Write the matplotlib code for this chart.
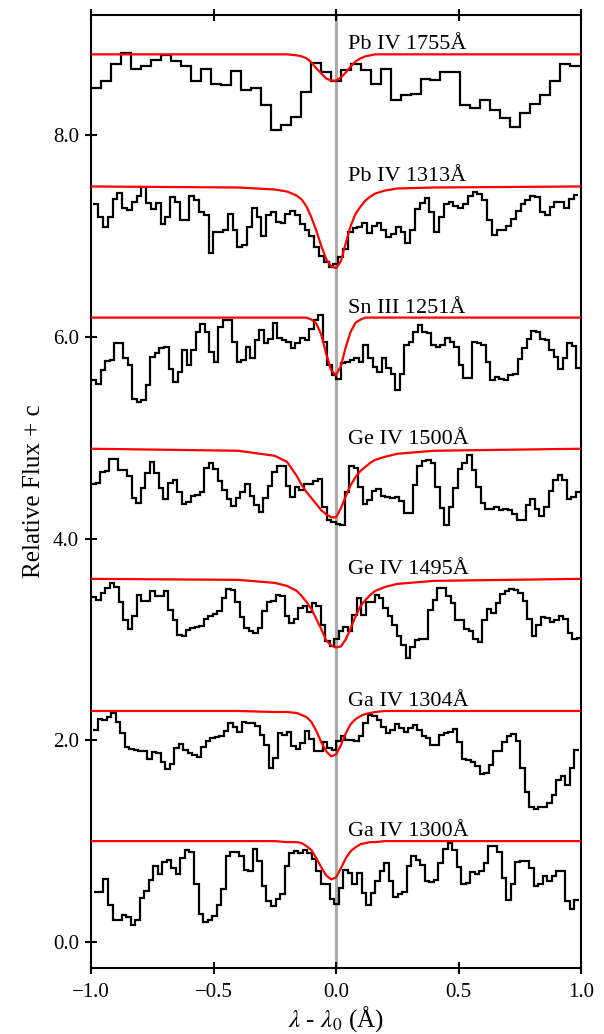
import numpy as np
import matplotlib
matplotlib.use("Agg")
import matplotlib.pyplot as plt

# observed spectra (relative flux + offset), one value per wavelength bin
pb1755_flux = [8.47, 8.54, 8.70, 8.81, 8.65, 8.68, 8.74, 8.79, 8.73, 8.68, 8.54, 8.65, 8.51, 8.50,
               8.63, 8.45, 8.47, 8.30, 8.05, 8.10, 8.18, 8.43, 8.71, 8.62, 8.54, 8.64, 8.70, 8.64,
               8.51, 8.65, 8.35, 8.40, 8.41, 8.56, 8.55, 8.62, 8.62, 8.30, 8.27, 8.35, 8.25, 8.17,
               8.08, 8.22, 8.31, 8.40, 8.54, 8.70, 8.68]
pb1313_flux = [7.32, 7.19, 7.09, 7.19, 7.37, 7.43, 7.28, 7.26, 7.34, 7.40, 7.48, 7.33, 7.27, 7.33,
               7.12, 7.19, 7.39, 7.34, 7.16, 7.16, 7.40, 7.36, 7.24, 7.21, 6.83, 7.04, 7.04, 7.06,
               7.22, 7.06, 6.89, 6.91, 7.09, 7.28, 7.19, 7.00, 7.21, 7.24, 7.14, 7.13, 7.22, 7.25,
               7.21, 7.12, 7.06, 7.00, 6.89, 6.80, 6.74, 6.69, 6.72, 6.79, 6.87, 7.04, 7.08, 7.09,
               7.13, 7.03, 7.10, 7.13, 7.06, 6.99, 7.02, 7.09, 7.04, 6.93, 7.06, 7.27, 7.33, 7.38,
               7.24, 7.04, 7.19, 7.32, 7.34, 7.30, 7.28, 7.32, 7.40, 7.44, 7.42, 7.36, 7.16, 7.01,
               7.06, 7.06, 7.10, 7.17, 7.25, 7.32, 7.36, 7.40, 7.39, 7.24, 7.21, 7.29, 7.34, 7.34,
               7.28, 7.37, 7.41]
sn1251_flux = [5.57, 5.53, 5.67, 5.76, 5.77, 5.94, 5.94, 5.79, 5.72, 5.38, 5.35, 5.37, 5.52, 5.80,
               5.84, 5.89, 5.90, 5.68, 5.55, 5.65, 5.87, 5.72, 5.87, 6.05, 6.13, 6.05, 5.85, 5.75,
               6.10, 6.17, 6.17, 5.95, 5.75, 5.77, 5.90, 5.79, 5.97, 6.07, 5.94, 5.98, 6.14, 5.99,
               5.97, 5.95, 5.89, 5.94, 5.99, 5.97, 6.08, 6.17, 6.22, 5.95, 5.72, 5.62, 5.58, 5.74,
               5.75, 5.77, 5.79, 5.75, 5.92, 5.79, 5.70, 5.65, 5.79, 5.69, 5.63, 5.47, 5.63, 5.92,
               5.95, 6.05, 6.12, 6.05, 6.04, 5.92, 5.90, 5.92, 5.99, 5.95, 5.90, 5.72, 5.59, 5.59,
               5.95, 5.94, 5.92, 5.75, 5.57, 5.60, 5.58, 5.57, 5.62, 5.63, 5.78, 5.89, 5.98, 6.06,
               6.05, 5.98, 5.97, 5.87, 5.80, 5.68, 5.79, 5.94, 5.91, 5.69]
ge1500_flux = [4.54, 4.55, 4.66, 4.67, 4.79, 4.79, 4.68, 4.68, 4.62, 4.40, 4.35, 4.50, 4.65, 4.76,
               4.65, 4.50, 4.39, 4.55, 4.58, 4.46, 4.34, 4.36, 4.42, 4.43, 4.46, 4.70, 4.75, 4.69,
               4.57, 4.48, 4.39, 4.32, 4.40, 4.46, 4.54, 4.42, 4.33, 4.26, 4.40, 4.52, 4.66, 4.72,
               4.72, 4.52, 4.41, 4.51, 4.48, 4.54, 4.54, 4.57, 4.59, 4.31, 4.18, 4.16, 4.14, 4.13,
               4.46, 4.72, 4.70, 4.51, 4.34, 4.38, 4.47, 4.49, 4.42, 4.41, 4.40, 4.41, 4.37, 4.25,
               4.25, 4.53, 4.72, 4.77, 4.78, 4.75, 4.51, 4.30, 4.13, 4.31, 4.50, 4.69, 4.75, 4.83,
               4.68, 4.51, 4.35, 4.29, 4.29, 4.31, 4.28, 4.29, 4.28, 4.24, 4.18, 4.18, 4.33, 4.39,
               4.29, 4.22, 4.31, 4.47, 4.58, 4.63, 4.58, 4.39, 4.41, 4.46]
ge1495_flux = [3.42, 3.39, 3.46, 3.51, 3.56, 3.52, 3.37, 3.19, 3.10, 3.23, 3.44, 3.38, 3.38, 3.48,
               3.43, 3.43, 3.48, 3.29, 3.19, 3.04, 3.03, 3.09, 3.11, 3.12, 3.13, 3.20, 3.23, 3.25,
               3.28, 3.41, 3.50, 3.49, 3.37, 3.22, 3.11, 3.08, 3.06, 3.11, 3.28, 3.37, 3.38, 3.44,
               3.43, 3.23, 3.16, 3.20, 3.31, 3.33, 3.27, 3.36, 3.33, 3.14, 2.98, 2.93, 3.00, 3.08,
               3.12, 3.08, 3.24, 3.41, 3.24, 3.37, 3.37, 3.44, 3.41, 3.31, 3.23, 3.14, 3.03, 2.94,
               2.82, 2.92, 2.99, 3.00, 3.00, 3.29, 3.39, 3.51, 3.51, 3.43, 3.36, 3.19, 3.19, 3.10,
               3.08, 3.00, 2.97, 3.19, 3.30, 3.26, 3.36, 3.45, 3.48, 3.50, 3.49, 3.46, 3.38, 3.20,
               3.03, 3.14, 3.22, 3.21, 3.17, 3.19, 3.23, 3.20, 3.06, 3.00, 3.01]
ga1304_flux = [2.10, 2.21, 2.20, 2.23, 2.27, 2.18, 2.07, 1.93, 1.91, 1.90, 1.89, 1.89, 1.81, 1.88,
               1.87, 1.78, 1.71, 1.76, 1.92, 1.96, 1.90, 1.87, 1.85, 1.83, 1.93, 1.99, 2.02, 2.03,
               2.04, 2.09, 2.17, 2.13, 2.08, 2.18, 2.17, 2.17, 2.14, 2.05, 1.95, 1.72, 1.82, 2.07,
               2.05, 2.08, 1.94, 1.91, 1.97, 2.09, 2.01, 1.89, 1.89, 1.98, 1.92, 1.90, 1.99, 2.04,
               2.00, 2.00, 1.99, 2.04, 2.17, 2.25, 2.24, 2.20, 2.13, 2.07, 2.10, 2.16, 2.12, 2.08,
               2.12, 2.15, 2.10, 2.04, 2.02, 1.95, 1.95, 2.05, 2.07, 2.08, 2.11, 1.98, 1.81, 1.80,
               1.78, 1.74, 1.67, 1.68, 1.75, 1.89, 1.89, 1.98, 2.04, 2.06, 1.99, 1.72, 1.49, 1.34,
               1.32, 1.34, 1.34, 1.38, 1.46, 1.61, 1.65, 1.56, 1.72, 1.90]
ga1300_flux = [0.50, 0.50, 0.62, 0.37, 0.22, 0.22, 0.27, 0.25, 0.17, 0.22, 0.44, 0.51, 0.61, 0.75,
               0.67, 0.79, 0.81, 0.73, 0.67, 0.83, 0.91, 0.89, 0.57, 0.28, 0.20, 0.22, 0.26, 0.37,
               0.53, 0.85, 0.89, 0.89, 0.85, 0.71, 0.70, 0.92, 0.80, 0.55, 0.41, 0.36, 0.43, 0.48,
               0.75, 0.88, 0.90, 0.88, 0.91, 0.88, 0.82, 0.70, 0.57, 0.57, 0.43, 0.38, 0.54, 0.71,
               0.68, 0.57, 0.68, 0.49, 0.37, 0.49, 0.60, 0.70, 0.78, 0.60, 0.45, 0.48, 0.50, 0.75,
               0.85, 0.81, 0.76, 0.60, 0.59, 0.61, 0.78, 0.92, 0.98, 0.91, 0.74, 0.57, 0.58, 0.69,
               0.67, 0.70, 0.78, 0.95, 0.95, 0.89, 0.63, 0.42, 0.57, 0.79, 0.80, 0.80, 0.73, 0.55,
               0.57, 0.65, 0.60, 0.65, 0.70, 0.70, 0.41, 0.33, 0.42]

# wavelength coverage (first / last bin edge, Angstrom from line centre)
wave_lo = [-1.000, -0.990, -0.998, -1.000, -0.997, -0.990, -0.986]
wave_hi = [0.997, 0.989, 1.000, 0.997, 1.000, 0.991, 0.991]

# model line profiles sampled on a common grid
model_dx = [-1.0, -0.4, -0.25, -0.2, -0.16, -0.14, -0.12, -0.10, -0.08, -0.06, -0.04, -0.02, 0.0,
            0.02, 0.04, 0.06, 0.08, 0.10, 0.12, 0.14, 0.16, 0.2, 0.25, 0.4, 1.0]
pb1755_model = [8.80, 8.80, 8.80, 8.80, 8.79, 8.78, 8.76, 8.72, 8.66, 8.61, 8.56, 8.54, 8.54,
                8.57, 8.62, 8.68, 8.73, 8.76, 8.78, 8.79, 8.80, 8.80, 8.80, 8.80, 8.80]
pb1313_model = [7.49, 7.48, 7.46, 7.44, 7.40, 7.36, 7.29, 7.18, 7.05, 6.90, 6.77, 6.70, 6.68,
                6.75, 6.93, 7.10, 7.22, 7.29, 7.35, 7.39, 7.42, 7.45, 7.47, 7.48, 7.49]
sn1251_model = [6.19, 6.19, 6.19, 6.19, 6.19, 6.19, 6.19, 6.17, 6.13, 6.02, 5.83, 5.67, 5.62,
                5.71, 5.90, 6.05, 6.14, 6.17, 6.19, 6.19, 6.19, 6.19, 6.19, 6.19, 6.19]
ge1500_model = [4.89, 4.87, 4.82, 4.76, 4.62, 4.53, 4.46, 4.40, 4.34, 4.28, 4.24, 4.21, 4.21,
                4.30, 4.42, 4.53, 4.61, 4.67, 4.71, 4.75, 4.78, 4.81, 4.84, 4.87, 4.89]
ge1495_model = [3.60, 3.59, 3.56, 3.53, 3.48, 3.43, 3.37, 3.30, 3.20, 3.10, 2.99, 2.94, 2.92,
                2.93, 3.00, 3.11, 3.23, 3.33, 3.39, 3.44, 3.48, 3.52, 3.55, 3.58, 3.60]
ga1304_model = [2.29, 2.29, 2.28, 2.28, 2.27, 2.25, 2.23, 2.18, 2.09, 1.98, 1.89, 1.84, 1.86,
                1.95, 2.07, 2.16, 2.21, 2.24, 2.26, 2.27, 2.28, 2.29, 2.29, 2.29, 2.29]
ga1300_model = [1.00, 1.00, 1.00, 0.99, 0.99, 0.98, 0.95, 0.91, 0.83, 0.74, 0.66, 0.62, 0.64,
                0.73, 0.83, 0.90, 0.94, 0.97, 0.98, 0.99, 0.99, 1.00, 1.00, 1.00, 1.00]

line_names = ["Pb IV 1755Å", "Pb IV 1313Å", "Sn III 1251Å", "Ge IV 1500Å",
              "Ge IV 1495Å", "Ga IV 1304Å", "Ga IV 1300Å"]
fluxes = [pb1755_flux, pb1313_flux, sn1251_flux, ge1500_flux, ge1495_flux, ga1304_flux, ga1300_flux]
models = [pb1755_model, pb1313_model, sn1251_model, ge1500_model, ge1495_model, ga1304_model,
          ga1300_model]

x_ticks = [-1.0, -0.5, 0.0, 0.5, 1.0]
x_tick_labels = ["\u22121.0", "\u22120.5", "0.0", "0.5", "1.0"]
y_ticks = [0, 2, 4, 6, 8]
y_tick_labels = ["0.0", "2.0", "4.0", "6.0", "8.0"]


def main():
    plt.rcParams["font.family"] = ["Liberation Serif", "DejaVu Serif"]
    plt.rcParams["mathtext.fontset"] = "stix"

    fig = plt.figure(figsize=(6.04, 10.34), dpi=100)
    ax = fig.add_axes([91 / 604, 1 - 968 / 1034, 490 / 604, 953 / 1034])

    ax.axvline(0.0, color="#ababab", lw=2.2, zorder=1)
    for name, flux, model, lo, hi in zip(line_names, fluxes, models, wave_lo, wave_hi):
        edges = np.linspace(lo, hi, len(flux) + 1)
        ax.stairs(flux, edges, baseline=None, color="black", lw=1.6, zorder=2)
        ax.plot(model_dx, model, color="red", lw=1.6, zorder=3)
        ax.text(0.05, model[-1] + 0.05, name, fontsize=16, ha="left", va="baseline")

    ax.set_xlim(-1.0, 1.0)
    ax.set_ylim(-0.258, 9.19)
    ax.set_xticks(x_ticks, x_tick_labels)
    ax.set_yticks(y_ticks, y_tick_labels)
    ax.tick_params(direction="inout", length=9, width=1.5, top=True, right=False,
                   labelsize=15)
    ax.tick_params(axis="x", pad=6)
    ax.tick_params(axis="y", pad=4)
    for sp in ax.spines.values():
        sp.set_linewidth(1.5)

    ax.set_xlabel(r"$\lambda$ - $\lambda_0$ (Å)", fontsize=18, labelpad=2)
    ax.set_ylabel("Relative Flux + c", fontsize=18, labelpad=6)

    fig.savefig("out.png", dpi=100)


if __name__ == "__main__":
    main()
